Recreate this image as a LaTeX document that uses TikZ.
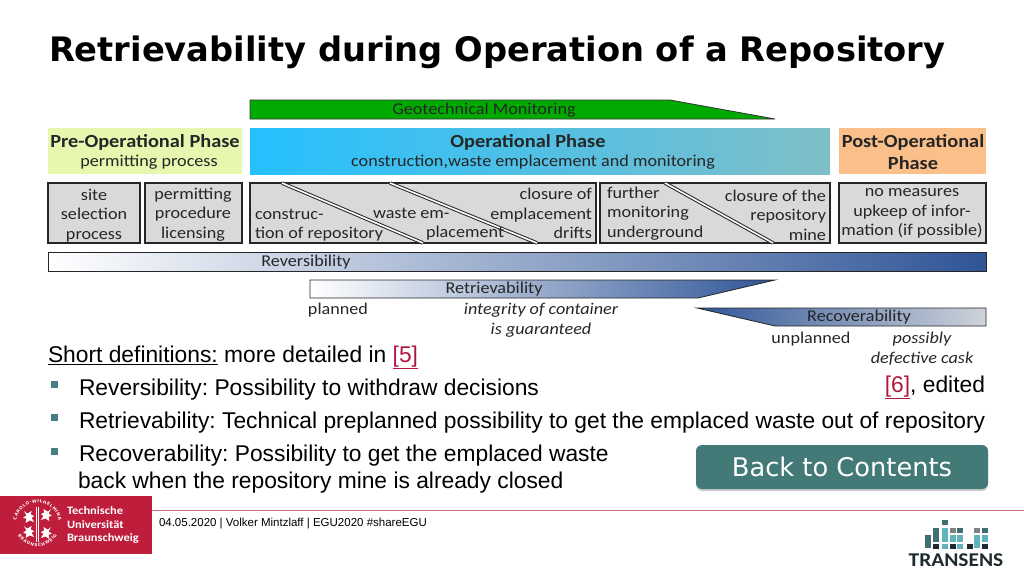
\documentclass[tikz,border=0pt]{standalone}
\usepackage{fontspec}
\setmainfont{Liberation Sans}
\newfontfamily\labelfont[FakeStretch=1.1]{Carlito}
\newfontfamily\titlefont{DejaVu Sans}
\usetikzlibrary{shadows, decorations.text}
\frenchspacing
\definecolor{turot}{HTML}{BE1E3C}
\definecolor{linkrot}{HTML}{B2183C}
\definecolor{boxgrau}{HTML}{D9D9D9}
\definecolor{rand}{HTML}{262626}
\definecolor{balken}{HTML}{2F5597}
\definecolor{balkenmitte}{HTML}{A3A9B7}
\definecolor{balkenende}{HTML}{CFD3DA}
\definecolor{knopf}{HTML}{437A78}
\definecolor{tealhell}{HTML}{62B4BC}
\definecolor{tealdunkel}{HTML}{3F6F70}
\definecolor{logograu}{HTML}{1E2B2E}
\definecolor{prefarbe}{HTML}{E6F7B0}
\definecolor{postfarbe}{HTML}{FBC08A}
\definecolor{monitorfarbe}{HTML}{00AA00}
\definecolor{opa}{HTML}{25C0FF}
\definecolor{opb}{HTML}{62C0FC}
\definecolor{opc}{HTML}{7FBFC8}
\tikzset{
  every node/.style={inner sep=0pt, outer sep=0pt},
  schrift/.style={font=\labelfont\fontsize{#1}{#1}\selectfont, text=black!85},
  phase/.style={font=\labelfont\fontsize{16.5}{19}\selectfont, text=black!85, align=center, anchor=center},
  feld/.style={draw=rand, line width=1.3pt, fill=boxgrau},
  trenner/.style={draw=black!85, double=white, double distance=1.6pt, line width=1pt},
  balkenrand/.style={draw=rand, line width=0.8pt},
  koerper/.style={font=\fontsize{22.8}{26}\selectfont, anchor=base west},
  kursiv/.style={font=\labelfont\itshape\fontsize{16.5}{20}\selectfont, text=black!85, align=center},
  siegel/.style={postaction={decorate, decoration={text along path, text color=white, text align={fit to path}, text={|\titlefont\bfseries\fontsize{4.2}{5}\selectfont|#1}}}}
}
\newcommand{\quelle}[1]{\textcolor{linkrot}{\underline{#1}}}
\begin{document}
\begin{tikzpicture}[x=1pt, y=-1pt]
\useasboundingbox (0,0) rectangle (1024,576);

\node [anchor=base west, font=\titlefont\bfseries\fontsize{33.7}{36}\selectfont] (title) at (49,61) {Retrievability during Operation of a Repository};

% monitoring bar
\draw [draw=black!80, fill=monitorfarbe, line width=0.8pt] (250,100) -- (670,100) -- (775,119) -- (250,119) -- cycle;
\node [schrift=16.5] (monitoring) at (484,110) {Geotechnical Monitoring};

% phases
\fill [fill=prefarbe] (48,128) rectangle (242,174);
\shade [left color=opa, middle color=opb, right color=opc] (250,128) rectangle (830,174);
\fill [fill=postfarbe] (839,128) rectangle (986,174);

\node [phase] (phase-pre) at (145,152) {\textbf{\fontsize{18.5}{20}\selectfont Pre-Operational Phase}\\[0pt]\hspace*{8pt}permitting process};
\node [phase] (phase-op) at (533,152) {\textbf{\fontsize{18.5}{20}\selectfont Operational Phase}\hspace*{10pt}\\[0pt]construction,waste emplacement and monitoring};
\node [phase, font=\labelfont\bfseries\fontsize{18.5}{22}\selectfont] (phase-post) at (913,152) {Post-Operational\\Phase};

% activity boxes
\foreach \a/\b in {48/140, 145/242, 250/596, 600/830, 839/986}
  \draw [feld] (\a,183) rectangle (\b,243);

\foreach \von/\bis in {282/423, 390/537, 665/773}
  \draw [trenner] (\von,183) -- (\bis,243);

\foreach \x/\y/\anc/\aus/\t [count=\i] in {
    94/215.5/center/center/{site\\selection\\process},
    193/214.5/center/center/{permitting\\procedure\\licensing},
    255/225/west/left/{construc-\\tion of repository},
    373/224/west/left/{waste em-\\\hspace*{53pt}placement},
    592/213.5/east/right/{closure of\\emplacement\\drifts},
    607/213.5/west/left/{further\\monitoring\\underground},
    826/215/east/right/{closure of the\\repository\\mine},
    912/213.5/center/center/{no measures\\upkeep of infor-\\mation (if possible)}}
  \node [font=\labelfont\fontsize{16.5}{19.5}\selectfont, text=black!85, align=\aus, anchor=\anc] (aktivitaet-\i) at (\x,\y) {\t};

% gradient bars
\shade [balkenrand, left color=white, middle color=balkenmitte, right color=balken] (48,252) rectangle (986,271);
\node [schrift=16.5] (reversibility) at (306,262) {Reversibility};

\shade [balkenrand, left color=white, middle color=balkenmitte, right color=balken] (310,280) -- (775,280) -- (698,298) -- (310,298) -- cycle;
\node [schrift=16.5] (retrievability) at (494,289) {Retrievability};

\shade [balkenrand, left color=balken, middle color=balkenmitte, right color=balkenende] (697,308) -- (986,308) -- (986,326) -- (775,326) -- cycle;
\node [schrift=16.5] (recoverability) at (859,317) {Recoverability};

% notes below the bars
\node [schrift=16.5] (planned) at (338,310) {planned};
\node [kursiv] (integrity) at (541,320) {integrity of container\\is guaranteed};
\node [schrift=16.5] (unplanned) at (811,339) {unplanned};
\node [kursiv] (defective) at (922,349) {possibly\\defective cask};

% text
\node [koerper] (short) at (48,362.5) {\underline{Short definitions:} more detailed in \quelle{[5]}};
\node [koerper, anchor=base east] (edited) at (985,392) {\quelle{[6]}, edited};

\foreach \t/\y [count=\i] in {Reversibility: Possibility to withdraw decisions/395,
    Retrievability: Technical preplanned possibility to get the emplaced waste out of repository/428,
    Recoverability: Possibility to get the emplaced waste/461}
  \node [koerper] (punkt-\i) at (79,\y) {\t};
\foreach \y in {384,417,451}
  \node [fill=tealhell!70!black, minimum size=7pt] at (54,\y) {};
\node [koerper] (punkt-4) at (78,488) {back when the repository mine is already closed};

% button
\node [fill=knopf, rounded corners=6pt, minimum width=292pt, minimum height=44pt, text=white, drop shadow={shadow xshift=0pt, shadow yshift=-2pt, opacity=0.4}, font=\titlefont\fontsize{25.7}{28}\selectfont] (zurueck) at (842,467) {Back to Contents};

% footer
\draw [draw=turot!65, line width=1pt] (152,510.5) -- (1024,510.5);
\node [anchor=base west, font=\fontsize{11.5}{13}\selectfont] (fusszeile) at (159,526) {04.05.2020 | Volker Mintzlaff | EGU2020 \#shareEGU};

% TU logo
\fill [turot] (0,496) rectangle (152,554);
\draw [white, line width=0.7pt] (36.5,507) -- (36.5,542) (38,507) -- (38,542);
\path [siegel=CAROLO-WILHELMINA] (16.3,520.3) arc (190:350:21.5);
\path [siegel=BRAUNSCHWEIG] (18,535.3) arc (150:30:22.5);
\foreach \x/\y/\s in {29/517/1, 46/515/-1, 29/532/1, 46/533/-1}
  \fill [white, shift={(\x,\y)}, xscale=\s, scale=0.85] (-6,-7) -- (-2,-4) -- (3,-7) -- (2,-3) -- (6,-1) -- (3,1) -- (6,6) -- (1,4) -- (-4,7) -- (-3,2) -- (-7,1) -- (-3,-2) -- cycle;
\node [anchor=west, align=left, text=white, font=\labelfont\bfseries\fontsize{11.3}{13.2}\selectfont] (tu-name) at (67,525) {Technische\\Universit\"at\\Braunschweig};

% TRANSENS logo
\foreach \x/\y/\h/\f in {
    925/535/13/tealdunkel, 933/528/14/tealdunkel, 933/544/4.5/logograu,
    942/520/5/tealdunkel, 942/528/14/tealhell, 942/544/4.5/tealhell,
    950/528/4.5/gray, 950/535/7/tealhell, 950/544/4.5/logograu,
    957/528/4.5/tealdunkel, 957/535/7/tealhell, 957/544/4.5/tealhell,
    967/544/4.5/logograu,
    974/528/4.5/gray, 974/535/13/tealhell,
    982/528/4.5/tealdunkel, 982/535/7/tealhell, 982/544/4.5/logograu}
  \fill [\f] (\x,\y) rectangle ++(5.5,\h);
\node [font=\labelfont\bfseries\fontsize{19.5}{22}\selectfont, text=logograu] (transens) at (956,560) {TRANSENS};

\end{tikzpicture}
\end{document}
